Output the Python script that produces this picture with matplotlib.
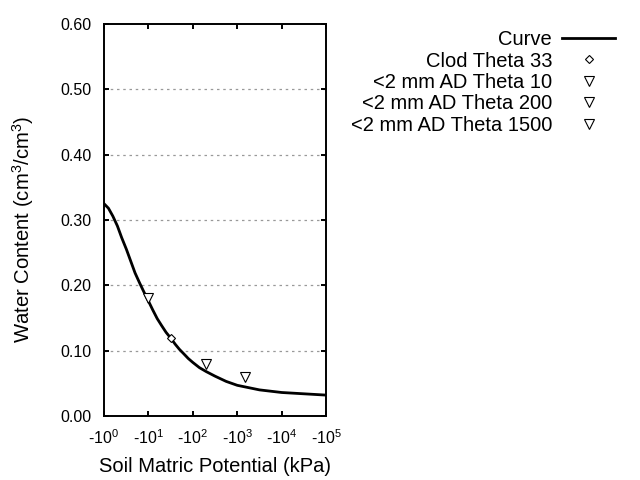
import numpy as np
import matplotlib
matplotlib.use("Agg")
from matplotlib import pyplot as plt
from matplotlib.ticker import FixedLocator, FuncFormatter, NullLocator

plt.rcParams['font.family'] = ['Liberation Sans', 'DejaVu Sans']
plt.rcParams['mathtext.fontset'] = 'custom'
plt.rcParams['mathtext.rm'] = 'Liberation Sans'
plt.rcParams['mathtext.it'] = 'Liberation Sans'
plt.rcParams['mathtext.default'] = 'regular'

# fitted curve (suction in kPa, drawn as negative potential)
curve_kpa = [1, 1.26, 1.58, 2, 2.5, 3.2, 4, 5, 6.3, 7.9, 10, 12.6, 15.8, 20,
             25, 32, 40, 50, 63, 79, 100, 141, 200, 316, 562, 1000, 3162,
             10000, 31600, 100000]
curve_theta = [0.325, 0.318, 0.306, 0.291, 0.273, 0.255, 0.237, 0.219, 0.204,
               0.190, 0.176, 0.162, 0.149, 0.138, 0.128, 0.119, 0.110, 0.102,
               0.095, 0.088, 0.082, 0.074, 0.068, 0.061, 0.053, 0.047, 0.040,
               0.036, 0.034, 0.032]

clod_kpa = [33]
clod_theta = [0.12]
ad10_kpa = [10]
ad10_theta = [0.18]
ad200_kpa = [200]
ad200_theta = [0.08]
ad1500_kpa = [1500]
ad1500_theta = [0.06]

fig = plt.figure(figsize=(6.4, 4.8), dpi=100)
ax = fig.add_axes([0.1625, 0.1333, 0.347, 0.8167])

ax.plot(curve_kpa, curve_theta, color='black', lw=2, label='Curve')
ax.plot(clod_kpa, clod_theta, ls='none', marker='D', ms=4, mfc='white',
        mec='black', mew=0.8, label='Clod Theta 33')
ax.plot(ad10_kpa, ad10_theta, ls='none', marker='v', ms=7, mfc='white',
        mec='black', mew=0.8, label='<2 mm AD Theta 10')
ax.plot(ad200_kpa, ad200_theta, ls='none', marker='v', ms=7, mfc='white',
        mec='black', mew=0.8, label='<2 mm AD Theta 200')
ax.plot(ad1500_kpa, ad1500_theta, ls='none', marker='v', ms=7, mfc='white',
        mec='black', mew=0.8, label='<2 mm AD Theta 1500')

ax.set_xscale('log')
ax.set_xlim(1, 1e5)
ax.set_ylim(0, 0.6)
ax.xaxis.set_major_locator(FixedLocator([1, 10, 100, 1e3, 1e4, 1e5]))
ax.xaxis.set_minor_locator(NullLocator())
ax.xaxis.set_major_formatter(FuncFormatter(lambda v, p: '-$10^{%d}$' % round(np.log10(v))))
ax.set_yticks(np.arange(0, 0.61, 0.1))
ax.yaxis.set_major_formatter(FuncFormatter(lambda v, p: '%.2f' % v))

for s in ax.spines.values():
    s.set_linewidth(1.4)
ax.tick_params(direction='in', length=3.5, width=1.4, labelsize=11.5,
               top=True, right=True, pad=9)
for yv in [0.1, 0.2, 0.3, 0.4, 0.5]:
    ax.axhline(yv, color='#999999', ls=(0, (2, 3)), lw=0.9, zorder=0)

ax.set_xlabel('Soil Matric Potential (kPa)', fontsize=14.5, labelpad=7)
ax.set_ylabel('Water Content (cm$^3$/cm$^3$)', fontsize=14.6)
ax.yaxis.set_label_coords(-0.308, 0.475)

leg = fig.legend(loc='upper right', bbox_to_anchor=(0.99, 0.975),
                 frameon=False, markerfirst=False, fontsize=14.5,
                 handlelength=2.65, labelspacing=0.12, handletextpad=0.5)

fig.savefig('out.png', dpi=100)
